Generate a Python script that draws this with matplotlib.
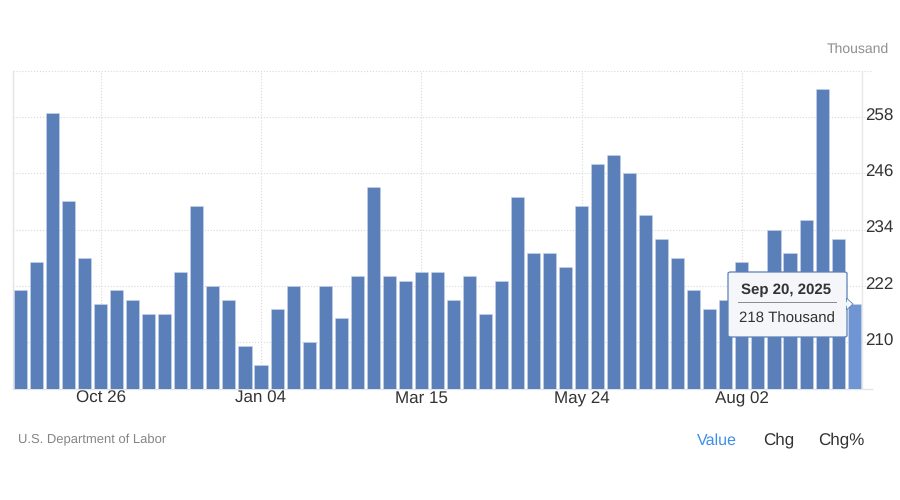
import matplotlib
matplotlib.use("Agg")
import matplotlib.pyplot as plt
import matplotlib.dates as mdates
import matplotlib.transforms as mtrans
from matplotlib.patches import FancyBboxPatch, Polygon
import pandas as pd

plt.rcParams['font.family'] = ['Liberation Sans', 'DejaVu Sans']
plt.rcParams['text.hinting'] = 'none'
plt.rcParams['text.hinting_factor'] = 1

# weekly values, thousand
first_week = '2024-09-21'
values = [221, 227, 259, 240, 228, 218, 221, 219, 216, 216, 225, 239, 222, 219,
          209, 205, 217, 222, 210, 222, 215, 224, 243, 224, 223, 225, 225, 219,
          224, 216, 223, 241, 229, 229, 226, 239, 248, 250, 246, 237, 232, 228,
          221, 217, 219, 227, 224, 234, 229, 236, 264, 232, 218]
tick_dates = ['2024-10-26', '2025-01-04', '2025-03-15', '2025-05-24', '2025-08-02']
y_ticks = [210, 222, 234, 246, 258]
weeks = pd.date_range(first_week, periods=len(values), freq='7D')

W, H = 900, 500
BAR = '#5b80b9'
HILITE = '#6f96d2'
GRID = '#d8d8d8'


def px(x, y):
    # pixel position (from top left) to figure fraction
    return x / W, 1 - y / H


fig = plt.figure(figsize=(9, 5), dpi=100, facecolor='white')
ax = fig.add_axes([13 / W, 1 - 388.5 / H, (872 - 13) / W, (388.5 - 70.5) / H])

colors = [BAR] * (len(values) - 1) + [HILITE]
ax.bar(weeks, values, width=5.7, color=colors, edgecolor='#c9d6ea', linewidth=0.4, zorder=3)

ref = mdates.date2num(pd.Timestamp(tick_dates[0]))
ax.set_xlim(ref - 38.3, ref + 336.8)
ax.set_ylim(200, 268)

ax.set_xticks(pd.to_datetime(tick_dates))
ax.xaxis.set_major_formatter(mdates.DateFormatter('%b %d'))
ax.set_yticks(y_ticks)
ax.yaxis.tick_right()
ax.tick_params(axis='both', length=0, labelsize=12.3, labelcolor='#333333')
ax.tick_params(axis='x', pad=10.6)
ax.tick_params(axis='y', pad=-5)
ax.grid(True, color=GRID, linestyle=':', linewidth=0.8, zorder=0)
ax.axhline(268, color=GRID, linestyle=':', linewidth=0.8, zorder=0)

for name, spine in ax.spines.items():
    spine.set_visible(name in ('left', 'bottom'))
    spine.set_color('#e4e4e4')
    spine.set_linewidth(1.0)
ax.axvline(ref + (862 - 100.7) / 2.29, color='#e8e8e8', linewidth=1.0, zorder=1)

for lab in ax.get_xticklabels():
    lab.set_verticalalignment('baseline')
shift = mtrans.ScaledTranslation(0, 1.8 / 72, fig.dpi_scale_trans)
for lab in ax.get_yticklabels():
    lab.set_transform(lab.get_transform() + shift)

# outside text
fig.text(*px(889, 49), 'Thousand', ha='right', va='center', fontsize=10, color='#8f8f8f')
fig.text(*px(18, 439.5), 'U.S. Department of Labor', ha='left', va='center', fontsize=9.4, color='#858585')
fig.text(*px(697, 440.5), 'Value', ha='left', va='center', fontsize=11.8, color='#3d8fe8')
fig.text(*px(763.5, 440.5), 'Chg', ha='left', va='center', fontsize=12, color='#333333')
fig.text(*px(818, 440.5), 'Chg%', ha='left', va='center', fontsize=12, color='#333333')

# tooltip
x0, y0 = px(728, 337)
x1, y1 = px(847, 272)
box = FancyBboxPatch((x0, y0), x1 - x0, y1 - y0, boxstyle='round,pad=0,rounding_size=0.003',
                     transform=fig.transFigure, facecolor='#f4f6f9', edgecolor='#5b80b9',
                     linewidth=0.9, zorder=10)
fig.add_artist(box)
fig.add_artist(Polygon([px(846.5, 298), px(853, 304), px(846.5, 310)], closed=True,
                       transform=fig.transFigure, facecolor='#f4f6f9', edgecolor='#5b80b9',
                       linewidth=0.6, zorder=10))
fig.add_artist(Polygon([px(845, 299), px(847.5, 304), px(845, 309)], closed=True,
                       transform=fig.transFigure, facecolor='#f4f6f9', edgecolor='none', zorder=11))
fig.text(*px(786.5, 290.5), 'Sep 20, 2025', ha='center', va='center', fontsize=11.1, fontweight='bold',
         color='#333333', zorder=12)
fig.add_artist(plt.Line2D([px(738, 0)[0], px(836, 0)[0]], [px(0, 301.5)[1]] * 2,
                          transform=fig.transFigure, color='#8a8a8a', linewidth=0.7, zorder=12))
fig.text(*px(786.5, 318.5), '218 Thousand', ha='center', va='center', fontsize=11.1,
         color='#333333', zorder=12)

fig.savefig('out.png', dpi=100)
